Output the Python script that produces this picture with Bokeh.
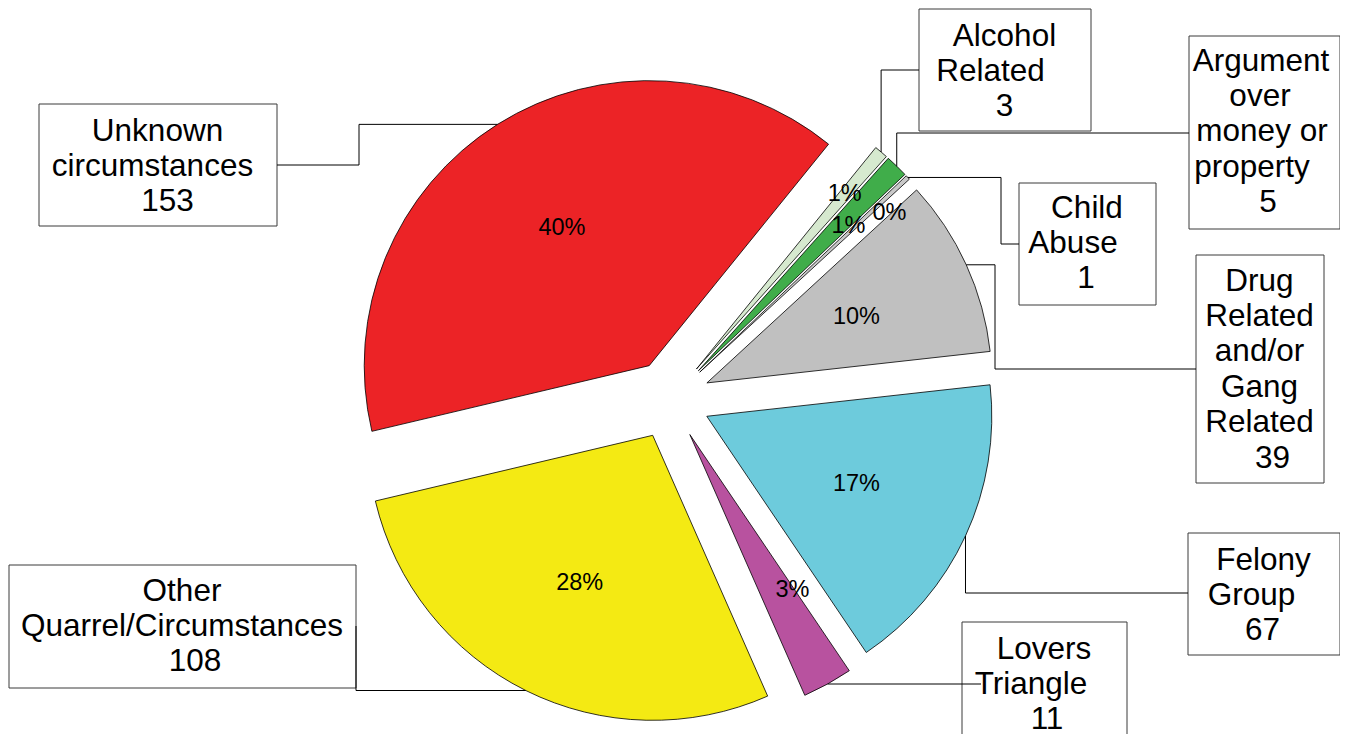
import math
import numpy as np
from bokeh.plotting import figure
from bokeh.models import Range1d, ColumnDataSource
from bokeh.core.properties import value
from bokeh.embed import file_html
from bokeh.resources import INLINE

# ---------------- data ----------------
categories = [
    "Alcohol Related",
    "Argument over money or property",
    "Child Abuse",
    "Drug Related and/or Gang Related",
    "Felony Group",
    "Lovers Triangle",
    "Other Quarrel/Circumstances",
    "Unknown circumstances",
]
counts = [3, 5, 1, 39, 67, 11, 108, 153]
label_lines = [
    ["Alcohol", "Related"],
    ["Argument", "over", "money or", "property"],
    ["Child", "Abuse"],
    ["Drug", "Related", "and/or", "Gang", "Related"],
    ["Felony", "Group"],
    ["Lovers", "Triangle"],
    ["Other", "Quarrel/Circumstances"],
    ["Unknown", "circumstances"],
]
colors = ["#D6E9CF", "#40AD4A", "#C8C8C8", "#C0C0C0",
          "#6DCBDC", "#B8529F", "#F4EA13", "#EC2326"]

# ---------------- layout (page pixels) ----------------
W, H = 1340, 734
CX, CY = 670, 399          # pie centre
R = 285
EXPLODE = 40
START = 51.0               # degrees, slices run clockwise

def X(px):
    return px - CX

def Y(py):
    return CY - py

# boxes: left, top, right, bottom (page px)
boxes = [
    (918, 8, 1090, 130),
    (1188, 35, 1339, 228),
    (1018, 182, 1155, 304),
    (1195, 254, 1323, 482),
    (1187, 532, 1339, 654),
    (961, 621, 1126, 760),
    (8, 564, 355, 687),
    (38, 103, 276, 225),
]
first_baseline = [34, 59, 206, 279, 558, 647, 589, 129]
LINE_STEP = 35.4
line_dx = [
    [0, -14, 0],
    [-3, -4, -2, -12, 4],
    [0, -14, -1],
    [0, 0, 0, 0, 0, 13],
    [0, -12, -1],
    [0, -13, 3],
    [0, 0, 13],
    [0, -5, 10],
]
# leader routes: fixed points then final segment mode
leader_fixed = [
    [(918, 69)],
    [(1188, 132)],
    [(1018, 243), (1000, 243)],
    [(1195, 368), (994, 368)],
    [(1187, 592)],
    [(980, 683)],
    [(355, 625)],
    [(276, 164), (358, 164)],
]
leader_mode = ["v", "v", "h", "h", "v", "h", "h", "h"]
pct_r = [270, 249, 288, 204, 204, 225, 204, 204]
pct_da = [0.2, -1.5, -2.6, -0.2, 0.5, 3.9, 0.0, 0.0]

# ---------------- figure ----------------
p = figure(width=W, height=H,
           x_range=Range1d(0 - CX, W - CX),
           y_range=Range1d(CY - H, CY),
           x_axis_type=None, y_axis_type=None,
           output_backend="svg", toolbar_location=None, min_border=0)
p.outline_line_color = None
p.background_fill_color = "white"
p.border_fill_color = "white"
p.grid.visible = False

total = float(sum(counts))
frac = np.array(counts) / total
cum = np.concatenate([[0.0], np.cumsum(frac)])
a0 = START - 360.0 * cum[:-1]
a1 = START - 360.0 * cum[1:]
bis = (a0 + a1) / 2.0
ox = EXPLODE * np.cos(np.radians(bis))
oy = EXPLODE * np.sin(np.radians(bis))

src = ColumnDataSource(dict(x=ox, y=oy, s=np.radians(a1), e=np.radians(a0), c=colors))
p.wedge(x="x", y="y", radius=R, start_angle="s", end_angle="e",
        fill_color="c", line_color="black", line_width=0.8, source=src)

# percent labels
pct_text = [f"{round(100 * c / total)}%" for c in counts]
px_ = [pct_r[i] * math.cos(math.radians(bis[i] + pct_da[i])) for i in range(len(counts))]
py_ = [pct_r[i] * math.sin(math.radians(bis[i] + pct_da[i])) for i in range(len(counts))]
p.text(x=px_, y=py_, text=pct_text, text_align="center", text_baseline="middle",
       text_font=value("Liberation Sans"), text_font_size="23.5px", text_color="black")

# boxes
p.quad(left=[X(b[0]) + 0.5 for b in boxes], right=[X(b[2]) + 0.5 for b in boxes],
       top=[Y(b[1]) - 0.5 for b in boxes], bottom=[Y(b[3]) - 0.5 for b in boxes],
       fill_color="white", line_color="#3a3a3a", line_width=1)

# leader lines (end at arc point on slice bisector)
xs, ys = [], []
for i in range(len(counts)):
    ax = ox[i] + R * math.cos(math.radians(bis[i]))
    ay = oy[i] + R * math.sin(math.radians(bis[i]))
    pts = [(X(a) + 0.5, Y(b) - 0.5) for a, b in leader_fixed[i]]
    lx, ly = pts[-1]
    if leader_mode[i] == "v":
        pts.append((ax, ly))
    else:
        pts.append((lx, ay))
    pts.append((ax, ay))
    xs.append([q[0] for q in pts])
    ys.append([q[1] for q in pts])
p.multi_line(xs=xs, ys=ys, line_color="black", line_width=1)

# box texts
tx, ty, tt = [], [], []
for i in range(len(counts)):
    lines = label_lines[i] + [str(counts[i])]
    cxb = (boxes[i][0] + boxes[i][2]) / 2.0
    for j, t in enumerate(lines):
        tx.append(X(cxb + line_dx[i][j]))
        ty.append(Y(first_baseline[i] + j * LINE_STEP))
        tt.append(t)
p.text(x=tx, y=ty, text=tt, text_align="center", text_baseline="alphabetic",
       text_font=value("Liberation Sans"), text_font_size="31.5px", text_color="black")

open("out.html", "w").write(file_html(p, INLINE))
